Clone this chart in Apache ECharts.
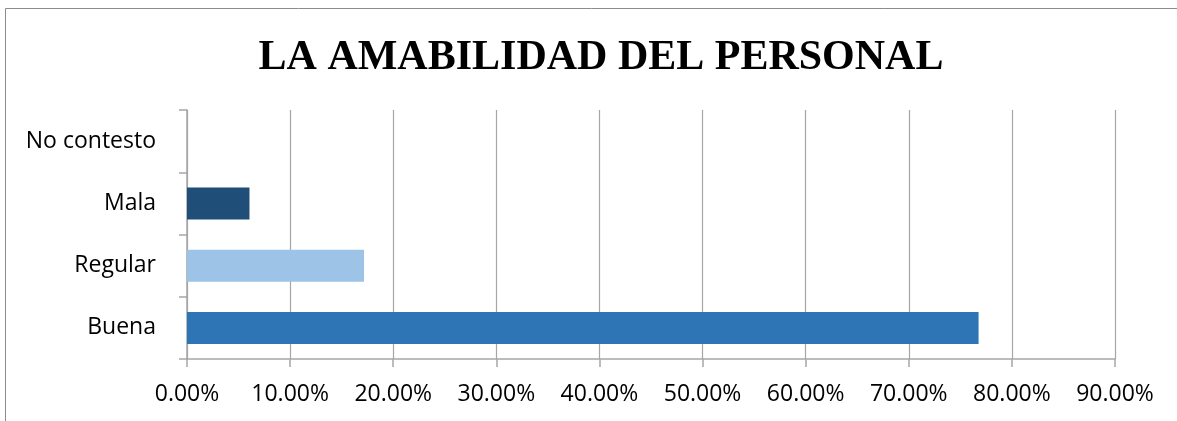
<!DOCTYPE html>
<html>
<head>
    <meta charset="utf-8" />
    <title>La amabilidad del personal</title>
    <script src="https://cdn.jsdelivr.net/npm/echarts@6/dist/echarts.min.js"></script>
    <style>
        html, body { margin: 0; padding: 0; background: #fff; }
        #chart { width: 1177px; height: 421px; }
    </style>
</head>
<body>
<div id="chart"></div>
<script>
    var categories = ['Buena', 'Regular', 'Mala', 'No contesto'];
    var values = [76.77, 17.17, 6.06, 0];
    var barColors = ['#2E75B6', '#9DC3E6', '#1F4E79', '#1F4E79'];

    var chart = echarts.init(document.getElementById('chart'));

    var option = {
        animation: false,
        backgroundColor: '#fff',
        graphic: [{
            type: 'rect',
            shape: { x: 5.5, y: 8.5, width: 1300, height: 600 },
            style: { fill: 'none', stroke: '#8c8c8c', lineWidth: 1 },
            silent: true
        }],
        title: {
            text: 'LA AMABILIDAD DEL PERSONAL',
            left: 596,
            textAlign: 'center',
            top: 32,
            textStyle: {
                fontFamily: 'Liberation Serif',
                fontWeight: 'bold',
                fontSize: 42,
                color: '#000'
            }
        },
        grid: { left: 187, right: 62, top: 110, bottom: 62 },
        xAxis: {
            type: 'value',
            min: 0,
            max: 90,
            interval: 10,
            axisLine: { show: true, lineStyle: { color: '#a6a6a6', width: 1.5 } },
            axisTick: { show: true, length: 8, lineStyle: { color: '#a6a6a6', width: 1.5 } },
            splitLine: { show: true, lineStyle: { color: '#a6a6a6', width: 1.2 } },
            axisLabel: {
                margin: 24,
                color: '#000',
                fontFamily: 'Open Sans',
                fontSize: 23,
                formatter: function (v) { return v.toFixed(2) + '%'; }
            }
        },
        yAxis: {
            type: 'category',
            data: categories,
            axisLine: { show: true, lineStyle: { color: '#a6a6a6', width: 1.5 } },
            axisTick: { show: true, length: 8, lineStyle: { color: '#a6a6a6', width: 1.5 } },
            axisLabel: {
                margin: 31,
                color: '#000',
                fontFamily: 'Open Sans',
                fontSize: 23
            }
        },
        series: [{
            type: 'bar',
            data: values.map(function (v, i) {
                return { value: v, itemStyle: { color: barColors[i] } };
            }),
            barWidth: 32
        }]
    };

    chart.setOption(option);
</script>
</body>
</html>
